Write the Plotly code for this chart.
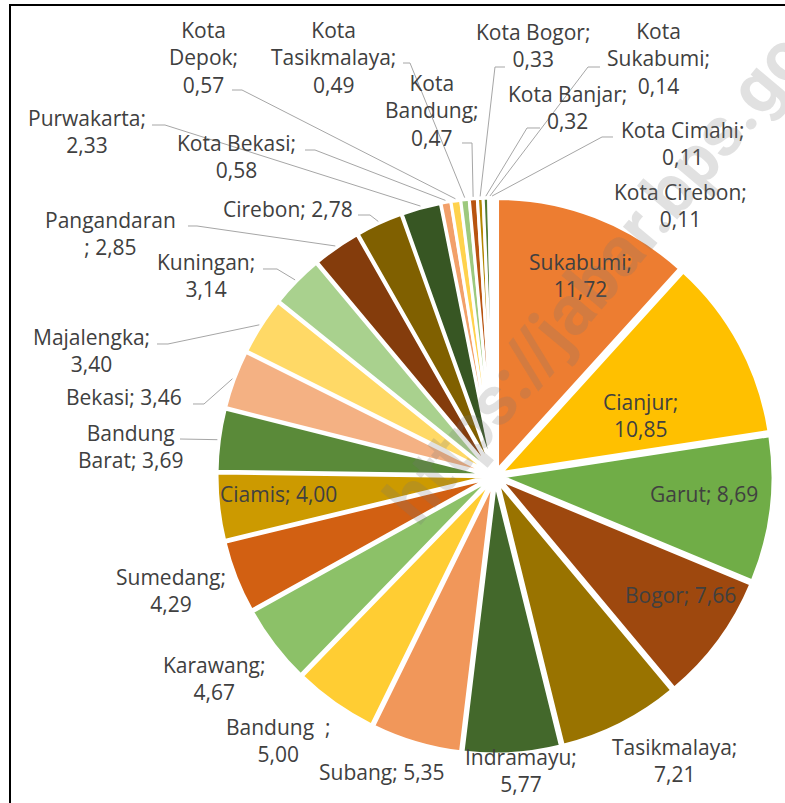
import math
import plotly.graph_objects as go

# ---------------- data ----------------
categories = ["Sukabumi", "Cianjur", "Garut", "Bogor", "Tasikmalaya", "Indramayu",
              "Subang", "Bandung ", "Karawang", "Sumedang", "Ciamis", "Bandung Barat",
              "Bekasi", "Majalengka", "Kuningan", "Pangandaran", "Cirebon", "Purwakarta",
              "Kota Bekasi", "Kota Depok", "Kota Tasikmalaya", "Kota Bandung", "Kota Bogor",
              "Kota Banjar", "Kota Sukabumi", "Kota Cimahi", "Kota Cirebon"]
values = [11.72, 10.85, 8.69, 7.66, 7.21, 5.77, 5.35, 5.00, 4.67, 4.29, 4.00, 3.69,
          3.46, 3.40, 3.14, 2.85, 2.78, 2.33, 0.58, 0.57, 0.49, 0.47, 0.33, 0.32,
          0.14, 0.11, 0.11]

# ---------------- styles ----------------
colors = ["#ED7D31", "#FFC000", "#70AD47", "#9E480E", "#997300", "#43682B",
          "#F1975A", "#FFCD33", "#8CC168", "#D26012", "#CC9A00", "#5A8A39",
          "#F4B183", "#FFD966", "#A9D18E", "#843C0C", "#806000", "#375623",
          "#F2A06A", "#FFD24D", "#9DC97E", "#B85410", "#B38600", "#4F7A32",
          "#ED7D31", "#FFC000", "#70AD47"]

W, H = 785, 803
CX, CY, RTOT = 495, 476, 278      # pie centre / outer extent (pixels)
PULL = 0.026
R_LINE = 280                       # where leader lines touch the slices
TEXT_COLOR = "#404040"
LINE_COLOR = "#A6A6A6"
FONT = "Open Sans"
FSIZE = 21

# label layout: name-break, separator, centre (px), leader start, leader elbow
label_layout = {
    "Sukabumi":         (False, ";<br>", (580, 275), None, None),
    "Cianjur":          (False, ";<br>", (640, 416), None, None),
    "Garut":            (False, "; ",    (704, 494), None, None),
    "Bogor":            (False, "; ",    (680, 595), None, None),
    "Tasikmalaya":      (False, ";<br>", (674, 760), None, None),
    "Indramayu":        (False, ";<br>", (521, 770), None, None),
    "Subang":           (False, "; ",    (382, 772), None, None),
    "Bandung ":         (False, ";<br>", (278, 740), None, None),
    "Karawang":         (False, ";<br>", (214, 678), None, None),
    "Sumedang":         (False, ";<br>", (171, 590), None, None),
    "Ciamis":           (False, "; ",    (278, 494), None, None),
    "Bandung Barat":    (True,  "; ",    (130, 446), (180, 439), None),
    "Bekasi":           (False, "; ",    (124, 397), (193, 404), (204, 404)),
    "Majalengka":       (False, ";<br>", (91, 350),  (157, 344), (168, 344)),
    "Kuningan":         (False, ";<br>", (206, 275), (263, 269), (277, 269)),
    "Pangandaran":      (False, "<br>; ", (110, 233), (188, 226), (197, 226)),
    "Cirebon":          (False, "; ",    (288, 209), (358, 215), (370, 215)),
    "Purwakarta":       (False, ";<br>", (87, 131),  (152, 125), (165, 125)),
    "Kota Bekasi":      (False, ";<br>", (236, 156), (305, 150), (315, 150)),
    "Kota Depok":       (True,  ";<br>", (203, 57),  (232, 90),  (242, 90)),
    "Kota Tasikmalaya": (True,  ";<br>", (333, 57),  (403, 63),  (410, 63)),
    "Kota Bandung":     (True,  ";<br>", (432, 110), (462, 143), (472, 143)),
    "Kota Bogor":       (False, ";<br>", (533, 45),  (505, 67),  (495, 67)),
    "Kota Banjar":      (False, ";<br>", (567, 108), (540, 128), (527, 128)),
    "Kota Sukabumi":    (True,  ";<br>", (658, 59),  (600, 67),  (588, 67)),
    "Kota Cimahi":      (False, ";<br>", (682, 143), (613, 137), (602, 137)),
    "Kota Cirebon":     (False, ";<br>", (680, 205), None, None),
}


def px(x):
    return x / W


def py(y):
    return 1 - y / H


def fmt(v):
    return f"{v:.2f}".replace(".", ",")


fig = go.Figure()
fig.add_trace(go.Pie(
    labels=categories, values=values, sort=False, direction="clockwise", rotation=0,
    pull=PULL, textinfo="none", hoverinfo="label+value",
    marker=dict(colors=colors, line=dict(color="white", width=3)),
    domain=dict(x=[px(CX - RTOT), px(CX + RTOT)], y=[py(CY + RTOT), py(CY - RTOT)]),
))

total = sum(values)
annotations = []
shapes = []
cum = 0.0
for name, v in zip(categories, values):
    mid = (cum + v / 2) / total * 2 * math.pi
    cum += v
    brk, sep, (lx, ly), start, elbow = label_layout[name]
    shown = name.rstrip().replace(" ", "<br>") if brk else name.rstrip()
    if name.endswith(" "):
        shown += "\u00a0\u00a0"
    text = shown + sep + fmt(v)
    annotations.append(dict(
        x=px(lx), y=py(ly), xref="paper", yref="paper", text=text, showarrow=False,
        xanchor="center", yanchor="middle", align="center",
        font=dict(family=FONT, size=FSIZE, color=TEXT_COLOR)))
    if start is not None:
        ex = CX + R_LINE * math.sin(mid)
        ey = CY - R_LINE * math.cos(mid)
        pts = [start] + ([elbow] if elbow else []) + [(ex, ey)]
        path = "M " + " L ".join(f"{px(a):.5f},{py(b):.5f}" for a, b in pts)
        shapes.append(dict(type="path", xref="paper", yref="paper", path=path,
                           line=dict(color=LINE_COLOR, width=1), layer="above"))

# chart frame (only top and left visible in the crop)
shapes.append(dict(type="rect", xref="paper", yref="paper",
                   x0=px(10), x1=1.05, y0=-0.05, y1=py(5),
                   line=dict(color="black", width=2), layer="above"))

# watermark
annotations.append(dict(
    x=px(622), y=py(248), xref="paper", yref="paper", text="https://jabar.bps.go.id",
    showarrow=False, textangle=-50, xanchor="center", yanchor="middle",
    font=dict(family="Roboto", size=70, color="rgba(120,120,120,0.22)", weight="bold")))

fig.update_layout(
    width=W, height=H, margin=dict(l=0, r=0, t=0, b=0),
    paper_bgcolor="white", plot_bgcolor="white", showlegend=False,
    annotations=annotations, shapes=shapes,
)

fig.write_html("out.html", config={"displayModeBar": False},
               post_script="document.body.style.margin='0px';"
                           "document.documentElement.style.overflow='hidden';")
